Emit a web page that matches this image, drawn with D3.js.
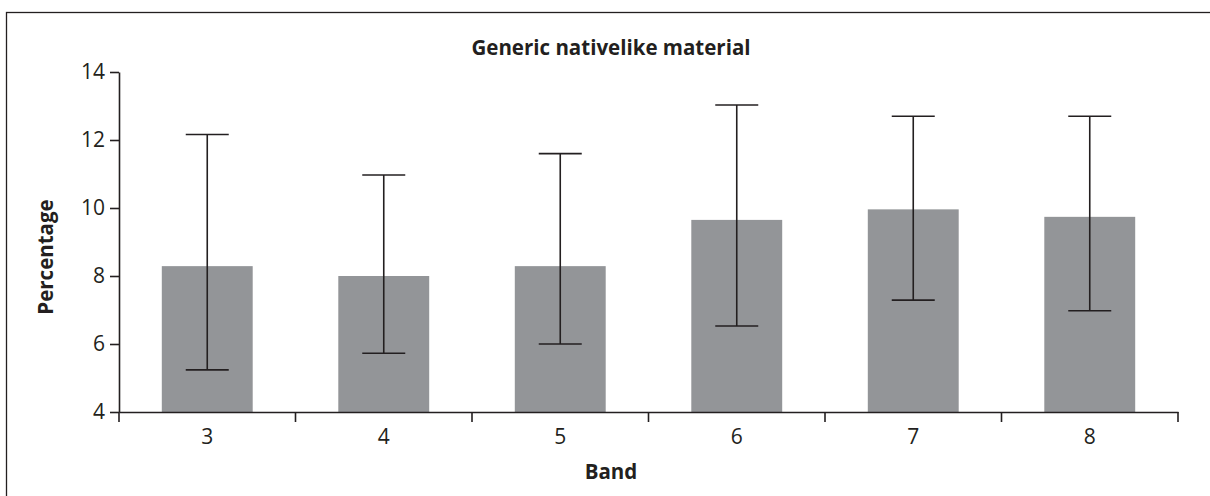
<!DOCTYPE html>
<html>
<head>
<meta charset="utf-8">
<script src="https://cdn.jsdelivr.net/npm/d3@7"></script>
<style>
  body { margin: 0; background: #fff; }
  svg { display: block; font-family: "Open Sans", sans-serif; }
</style>
</head>
<body>
<div id="chart"></div>
<script>
// band labels and values
const bands = ["3", "4", "5", "6", "7", "8"];
const means = [8.29, 8.0, 8.29, 9.65, 9.96, 9.74];
const errLow = [5.24, 5.73, 6.0, 6.53, 7.29, 6.98];
const errHigh = [12.16, 10.97, 11.6, 13.03, 12.7, 12.7];
const yTicks = [4, 6, 8, 10, 12, 14];

const width = 1210;
const height = 496;
const ink = "#231f20";

const svg = d3.select("#chart")
    .append("svg")
    .attr("width", width)
    .attr("height", height);

// outer frame (right/bottom edges fall outside the picture)
svg.append("rect")
    .attr("x", 6.5)
    .attr("y", 12.5)
    .attr("width", 1210)
    .attr("height", 500)
    .attr("fill", "none")
    .attr("stroke", ink)
    .attr("stroke-width", 1.3);

const plotLeft = 119, plotRight = 1178, plotTop = 72, plotBottom = 412;

const x = d3.scaleBand()
    .domain(bands)
    .range([plotLeft, plotRight])
    .paddingInner(0.485)
    .paddingOuter(0.2425);

const y = d3.scaleLinear()
    .domain([4, 14])
    .range([plotBottom, plotTop]);

const data = bands.map((b, i) => ({ band: b, mean: means[i], lo: errLow[i], hi: errHigh[i] }));

svg.selectAll("rect.bar")
    .data(data)
    .enter()
    .append("rect")
    .attr("class", "bar")
    .attr("x", d => x(d.band))
    .attr("y", d => y(d.mean))
    .attr("width", x.bandwidth())
    .attr("height", d => y(4) - y(d.mean))
    .attr("fill", "#939598");

// error bars
const capW = 43;
const cx = d => x(d.band) + x.bandwidth() / 2;
const err = svg.selectAll("g.err")
    .data(data)
    .enter()
    .append("g")
    .attr("class", "err")
    .attr("stroke", ink)
    .attr("stroke-width", 1.6);

err.append("line")
    .attr("x1", cx)
    .attr("x2", cx)
    .attr("y1", d => y(d.lo))
    .attr("y2", d => y(d.hi));
err.append("line")
    .attr("x1", d => cx(d) - capW / 2)
    .attr("x2", d => cx(d) + capW / 2)
    .attr("y1", d => y(d.hi))
    .attr("y2", d => y(d.hi));
err.append("line")
    .attr("x1", d => cx(d) - capW / 2)
    .attr("x2", d => cx(d) + capW / 2)
    .attr("y1", d => y(d.lo))
    .attr("y2", d => y(d.lo));

// y axis
const yAxis = svg.append("g")
    .attr("transform", `translate(${plotLeft},0)`)
    .call(d3.axisLeft(y).tickValues(yTicks).tickSize(9).tickSizeOuter(0).tickPadding(5));

// x axis: ticks on band boundaries
const xAxis = svg.append("g")
    .attr("transform", `translate(0,${plotBottom})`)
    .call(d3.axisBottom(x).tickSize(0).tickSizeOuter(0).tickPadding(17));

const step = x.step();
xAxis.selectAll("line.sep")
    .data(d3.range(bands.length + 1))
    .enter()
    .append("line")
    .attr("class", "sep")
    .attr("x1", i => plotLeft + i * step)
    .attr("x2", i => plotLeft + i * step)
    .attr("y1", 0)
    .attr("y2", 10)
    .attr("stroke", ink)
    .attr("stroke-width", 1.6);

[yAxis, xAxis].forEach(g => {
    g.selectAll(".domain").attr("stroke", ink).attr("stroke-width", 1.6);
    g.selectAll(".tick line").attr("stroke", ink).attr("stroke-width", 1.6);
    g.selectAll("text")
        .attr("fill", ink)
        .style("font-size", "21px")
        .style("font-family", "'Open Sans', sans-serif");
});

// titles
svg.append("text")
    .attr("x", 611)
    .attr("y", 55)
    .attr("text-anchor", "middle")
    .attr("fill", ink)
    .style("font-size", "20.5px")
    .style("font-weight", "bold")
    .text("Generic nativelike material");

svg.append("text")
    .attr("x", 611)
    .attr("y", 479)
    .attr("text-anchor", "middle")
    .attr("fill", ink)
    .style("font-size", "20.5px")
    .style("font-weight", "bold")
    .text("Band");

svg.append("text")
    .attr("transform", "translate(53,257) rotate(-90)")
    .attr("text-anchor", "middle")
    .attr("fill", ink)
    .style("font-size", "20.5px")
    .style("font-weight", "bold")
    .text("Percentage");
</script>
</body>
</html>
